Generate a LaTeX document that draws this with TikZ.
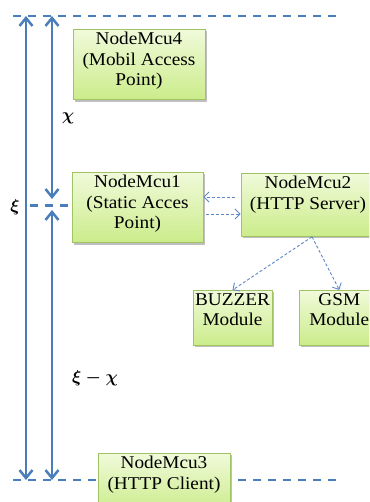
\documentclass[tikz,border=0pt]{standalone}
\usepackage{fontspec}
\setmainfont{Liberation Serif}[FakeStretch=1.07]
\usetikzlibrary{arrows.meta,positioning,shadows}

\definecolor{lineblue}{RGB}{74,126,187}
\definecolor{linkblue}{RGB}{95,135,198}
\definecolor{boxedge}{RGB}{160,195,100}
\definecolor{boxtop}{RGB}{240,250,218}
\definecolor{boxbottom}{RGB}{203,236,138}

\tikzset{
  topgap/.store in=\topgap, topgap=13pt,
  botgap/.store in=\botgap, botgap=11pt,
  UnitStyle/.style={draw=boxedge, line width=0.8pt,
    top color=boxtop, bottom color=boxbottom,
    drop shadow={shadow xshift=1.5pt, shadow yshift=-2pt, fill=black, opacity=0.25},
    anchor=north, align=center, inner xsep=2pt, inner ysep=3pt,
    font=\fontsize{18}{20.5}\selectfont,
    execute at begin node={\rule{0pt}{\topgap}},
    execute at end node={\rule[-\botgap]{0pt}{\botgap}}},
  GuideStyle/.style={lineblue, line width=2.5pt, dash pattern=on 8pt off 7pt},
  SpanStyle/.style={lineblue, line width=2.5pt,
    {Straight Barb[length=8pt,width=13pt]}-{Straight Barb[length=8pt,width=13pt]}},
  LinkStyle/.style={linkblue, line width=0.9pt, dash pattern=on 3pt off 2pt,
    -{Straight Barb[length=5pt,width=10pt]}},
  DimLabel/.style={font=\fontsize{18}{20}\selectfont\boldmath, inner sep=0pt}
}

\begin{document}
\begin{tikzpicture}[x=1pt, y=-1pt]
\useasboundingbox (0,0) rectangle (369,502);
\clip (0,0) rectangle (369,502);

% reference levels
\coordinate (topL) at (13,16);
\coordinate (topR) at (342,16);
\coordinate (botL) at (13,480);
\coordinate (botR) at (342,480);
\coordinate (midL) at (30,205.5);
\coordinate (outerTop) at (26,16);
\coordinate (outerBot) at (26,480);
\coordinate (innerTop) at (52,16);
\coordinate (innerMidA) at (52,199);
\coordinate (innerMidB) at (52,210);
\coordinate (innerBot) at (52,480);

\draw[GuideStyle] (topL) -- (topR);
\draw[GuideStyle] (botL) -- (botR);

\draw[SpanStyle] (outerTop) -- (outerBot);
\draw[SpanStyle] (innerTop) -- (innerMidA);
\draw[SpanStyle] (innerMidB) -- (innerBot);

\node[DimLabel] (chiLabel) at (68,118) {$\chi$};
\node[DimLabel] (xiLabel) at (15,207) {$\xi$};
\node[DimLabel] (diffLabel) at (95,378) {$\xi-\chi$};

% units
\node[UnitStyle, minimum width=132pt] (mcuFour) at (139,29) {NodeMcu4\\(Mobil Access\\Point)};
\node[UnitStyle, minimum width=131pt] (mcuOne) at (137.5,172) {NodeMcu1\\(Static Acces\\Point)};
\node[UnitStyle, minimum width=134pt, topgap=21pt, botgap=24pt] (mcuTwo) at (308,173) {NodeMcu2\\(HTTP Server)};
\node[UnitStyle, minimum width=79pt, topgap=12pt, botgap=16.5pt] (buzzer) at (232.5,290) {BUZZER\\Module};
\node[UnitStyle, minimum width=79pt, topgap=12pt, botgap=16.5pt, right=27pt of buzzer] (gsm) {GSM\\Module};
\node[UnitStyle, minimum width=132pt, topgap=10pt, botgap=20pt] (mcuThree) at (164,453) {NodeMcu3\\(HTTP Client)};

\draw[GuideStyle] (midL) -- (midL -| mcuOne.west);

\draw[LinkStyle, shorten <=6pt] (mcuTwo.west |- 0,197) -- (mcuOne.east |- 0,197);
\draw[LinkStyle, shorten <=3pt] (mcuOne.east |- 0,214) -- (mcuTwo.west |- 0,214);
\draw[LinkStyle] ([xshift=4pt]mcuTwo.south) -- (buzzer.north);
\draw[LinkStyle] ([xshift=4pt]mcuTwo.south) -- (gsm.north);
\end{tikzpicture}
\end{document}
